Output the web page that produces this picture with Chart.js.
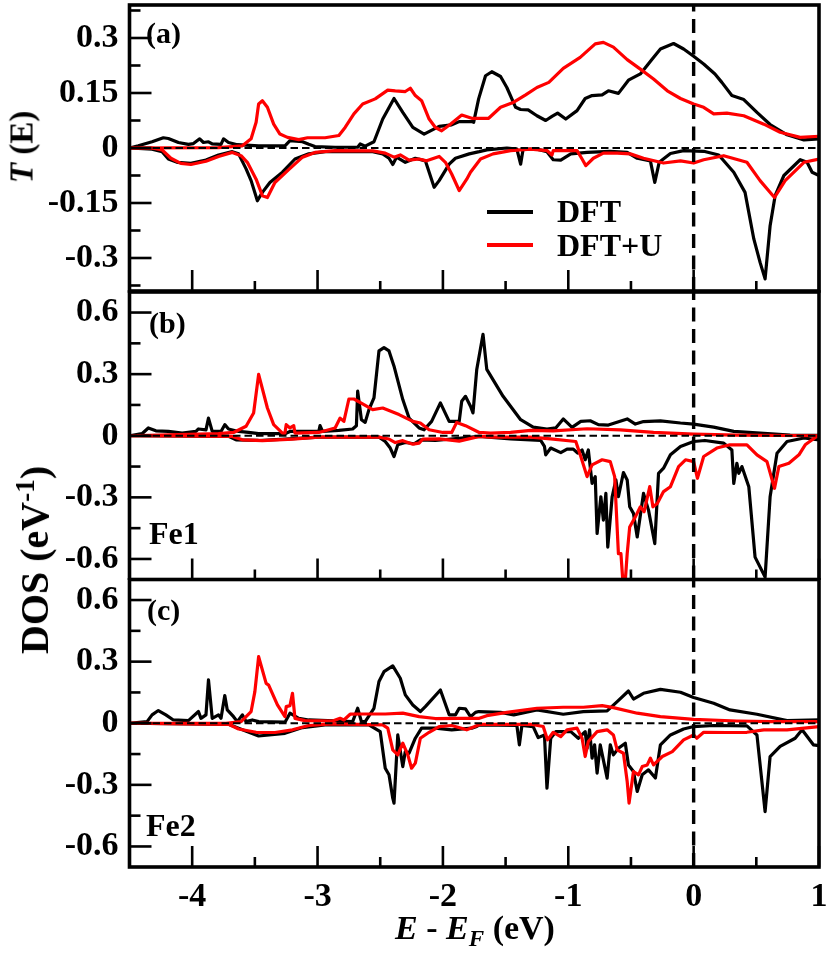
<!DOCTYPE html>
<html>
<head>
<meta charset="utf-8">
<script src="https://cdn.jsdelivr.net/npm/chart.js@4"></script>
<style>
  html, body { margin: 0; padding: 0; background: #fff; }
  #page { position: relative; width: 830px; height: 956px; overflow: hidden; font-family: "Liberation Serif", serif; font-weight: bold; color: #000; }
  canvas { position: absolute; left: 0; }
  .txt { position: absolute; white-space: nowrap; line-height: 1; }
  .rot { transform: translate(-50%, -50%) rotate(-90deg); }
  .leg { position: absolute; left: 487px; width: 46px; height: 3.5px; }
  sub { font-size: 68%; vertical-align: -0.32em; line-height: 0; }
  sup { font-size: 68%; vertical-align: 0.5em; line-height: 0; }
</style>
</head>
<body>
<div id="page">
  <canvas id="panelA" width="830" height="293" style="top:0"></canvas>
  <canvas id="panelB" width="830" height="291" style="top:289px"></canvas>
  <canvas id="panelC" width="830" height="378" style="top:578px"></canvas>

  <div class="txt" style="left:146px;top:18px;font-size:30px">(a)</div>
  <div class="txt" style="left:149px;top:308px;font-size:30px">(b)</div>
  <div class="txt" style="left:147px;top:595px;font-size:30px">(c)</div>
  <div class="txt" style="left:149px;top:517px;font-size:32px">Fe1</div>
  <div class="txt" style="left:146px;top:809px;font-size:32px">Fe2</div>

  <div class="leg" style="top:210px;background:#000"></div>
  <div class="leg" style="top:243px;background:#f00"></div>
  <div class="txt" style="left:557px;top:195px;font-size:32px">DFT</div>
  <div class="txt" style="left:557px;top:229px;font-size:32px">DFT+U</div>

  <div class="txt rot" style="left:22px;top:147px;font-size:33px"><i>T</i> (E)</div>
  <div class="txt rot" style="left:35px;top:560px;font-size:40px">DOS (eV<sup>-1</sup>)</div>
  <div class="txt" style="left:395px;top:911px;font-size:34px"><i>E</i> - <i>E<sub>F</sub></i> (eV)</div>
</div>

<script>
// panel (a), transmission
const aDftUpE = [-4.5,-4.43,-4.32,-4.23,-4.19,-4.11,-4.03,-3.99,-3.94,-3.91,-3.87,-3.84,-3.77,-3.75,-3.71,-3.64,-3.47,-3.26,-3.22,-3.12,-3.07,-3.02,-2.86,-2.68,-2.66,-2.62,-2.55,-2.48,-2.39,-2.32,-2.24,-2.15,-2.03,-1.93,-1.87,-1.77,-1.755,-1.715,-1.66,-1.61,-1.54,-1.49,-1.42,-1.38,-1.32,-1.25,-1.18,-1.13,-1.085,-1.02,-0.93,-0.865,-0.81,-0.73,-0.68,-0.6,-0.52,-0.425,-0.33,-0.265,-0.16,-0.08,0,0.08,0.17,0.225,0.305,0.4,0.505,0.61,0.745,0.88,1];
const aDftUpT = [0,0.006,0.017,0.028,0.026,0.015,0.01,0.012,0.025,0.015,0.017,0.011,0.01,0.025,0.015,0.009,0.006,0.006,0.02,0.017,0.01,0.004,0.002,0.002,0.011,0.005,0.017,0.079,0.135,0.097,0.056,0.038,0.059,0.063,0.072,0.072,0.07,0.134,0.197,0.208,0.195,0.165,0.111,0.105,0.104,0.088,0.075,0.086,0.095,0.079,0.102,0.135,0.143,0.145,0.156,0.149,0.185,0.202,0.243,0.27,0.285,0.27,0.25,0.229,0.202,0.179,0.143,0.132,0.097,0.064,0.036,0.022,0.025];
const aDftDownE = [-4.5,-4.32,-4.24,-4.19,-4.12,-4.01,-3.89,-3.79,-3.68,-3.63,-3.57,-3.53,-3.48,-3.44,-3.38,-3.28,-3.18,-3.07,-2.94,-2.56,-2.48,-2.43,-2.40,-2.37,-2.30,-2.22,-2.14,-2.07,-2.03,-1.95,-1.90,-1.79,-1.71,-1.65,-1.49,-1.41,-1.38,-1.36,-1.25,-1.17,-1.12,-1.06,-0.98,-0.85,-0.665,-0.53,-0.45,-0.345,-0.31,-0.275,-0.185,-0.08,0.08,0.2,0.32,0.41,0.48,0.53,0.57,0.61,0.65,0.72,0.85,0.905,0.945,1];
const aDftDownT = [0,-0.003,-0.01,-0.03,-0.039,-0.042,-0.033,-0.019,-0.01,-0.016,-0.057,-0.089,-0.144,-0.121,-0.094,-0.066,-0.03,-0.016,-0.01,-0.01,-0.016,-0.028,-0.045,-0.025,-0.039,-0.028,-0.035,-0.107,-0.089,-0.044,-0.028,-0.016,-0.01,-0.005,0,-0.003,-0.044,-0.003,-0.003,-0.01,-0.032,-0.033,-0.016,-0.012,-0.009,-0.012,-0.028,-0.035,-0.094,-0.039,-0.015,-0.007,-0.009,-0.019,-0.066,-0.121,-0.248,-0.312,-0.357,-0.212,-0.13,-0.075,-0.032,-0.039,-0.066,-0.075];
const aPlusUpE = [-4.5,-3.79,-3.60,-3.53,-3.49,-3.47,-3.44,-3.40,-3.35,-3.30,-3.24,-3.15,-3.08,-2.94,-2.83,-2.78,-2.71,-2.64,-2.54,-2.44,-2.38,-2.30,-2.26,-2.22,-2.17,-2.11,-2.06,-2.01,-1.94,-1.85,-1.77,-1.70,-1.635,-1.54,-1.435,-1.34,-1.25,-1.155,-1.04,-0.905,-0.785,-0.72,-0.64,-0.53,-0.425,-0.32,-0.21,-0.105,0,0.08,0.16,0.265,0.4,0.56,0.69,0.85,1];
const aPlusUpT = [0,0.001,0.006,0.025,0.07,0.12,0.129,0.111,0.065,0.038,0.029,0.023,0.028,0.028,0.034,0.056,0.093,0.12,0.134,0.158,0.156,0.154,0.163,0.143,0.129,0.079,0.056,0.047,0.065,0.09,0.081,0.081,0.081,0.111,0.125,0.145,0.165,0.179,0.217,0.247,0.284,0.288,0.275,0.241,0.215,0.188,0.156,0.135,0.12,0.111,0.093,0.095,0.088,0.065,0.043,0.029,0.032];
const aPlusDownE = [-4.5,-4.32,-4.24,-4.17,-4.09,-4.01,-3.89,-3.79,-3.68,-3.61,-3.56,-3.49,-3.44,-3.40,-3.34,-3.23,-3.12,-3.02,-2.86,-2.56,-2.46,-2.39,-2.34,-2.27,-2.19,-2.13,-2.03,-1.98,-1.93,-1.87,-1.81,-1.78,-1.70,-1.60,-1.46,-1.30,-1.17,-1.13,-1.12,-0.93,-0.89,-0.86,-0.80,-0.72,-0.61,-0.505,-0.40,-0.24,-0.105,0,0.08,0.24,0.425,0.53,0.645,0.73,0.88,1];
const aPlusDownT = [0,0,-0.005,-0.028,-0.042,-0.045,-0.036,-0.023,-0.012,-0.021,-0.039,-0.085,-0.13,-0.135,-0.094,-0.059,-0.025,-0.012,-0.007,-0.008,-0.014,-0.025,-0.019,-0.033,-0.03,-0.035,-0.023,-0.039,-0.071,-0.116,-0.085,-0.066,-0.03,-0.016,-0.007,-0.003,-0.007,-0.019,-0.007,-0.007,-0.03,-0.048,-0.028,-0.014,-0.014,-0.016,-0.028,-0.041,-0.035,-0.041,-0.032,-0.021,-0.039,-0.089,-0.135,-0.089,-0.039,-0.03];

// panel (b), Fe1 DOS
const bDftUpE = [-4.5,-4.40,-4.35,-4.29,-4.19,-4.08,-3.97,-3.95,-3.89,-3.87,-3.84,-3.77,-3.74,-3.71,-3.63,-3.55,-3.47,-3.26,-3.22,-2.99,-2.98,-2.96,-2.83,-2.72,-2.69,-2.68,-2.65,-2.62,-2.59,-2.55,-2.51,-2.47,-2.43,-2.39,-2.32,-2.27,-2.19,-2.15,-2.09,-2.02,-1.95,-1.87,-1.85,-1.82,-1.78,-1.76,-1.73,-1.68,-1.65,-1.52,-1.38,-1.28,-1.17,-1.10,-1.04,-0.97,-0.90,-0.825,-0.76,-0.68,-0.53,-0.465,-0.40,-0.265,-0.105,0,0.16,0.32,0.53,0.77,1];
const bDftUpD = [0,0.01,0.038,0.024,0.021,0.013,0.021,0.033,0.029,0.086,0.021,0.021,0.054,0.033,0.021,0.016,0.01,0.01,0.021,0.021,0.049,0.021,0.026,0.033,0.049,0.217,0.078,0.065,0.127,0.184,0.413,0.429,0.413,0.339,0.176,0.086,0.038,0.029,0.07,0.16,0.07,0.07,0.168,0.192,0.144,0.111,0.323,0.494,0.323,0.192,0.078,0.042,0.033,0.038,0.082,0.041,0.07,0.073,0.054,0.052,0.082,0.057,0.069,0.072,0.062,0.057,0.042,0.021,0.013,0.003,0.002];
const bDftDownE = [-4.5,-3.71,-3.65,-3.47,-3.26,-2.99,-2.51,-2.46,-2.42,-2.39,-2.36,-2.30,-2.23,-2.18,-2.06,-1.71,-1.46,-1.22,-1.19,-1.18,-1.14,-1.06,-1.01,-0.96,-0.925,-0.89,-0.865,-0.84,-0.81,-0.785,-0.77,-0.74,-0.72,-0.70,-0.685,-0.65,-0.62,-0.60,-0.56,-0.53,-0.51,-0.48,-0.45,-0.40,-0.36,-0.31,-0.28,-0.24,-0.185,-0.105,0,0.09,0.24,0.305,0.32,0.345,0.36,0.385,0.44,0.49,0.57,0.61,0.665,0.745,0.88,1];
const bDftDownD = [0,-0.003,-0.02,-0.023,-0.016,-0.007,-0.007,-0.028,-0.06,-0.101,-0.044,-0.033,-0.039,-0.02,-0.023,-0.003,-0.015,-0.023,-0.052,-0.093,-0.06,-0.082,-0.065,-0.065,-0.085,-0.069,-0.117,-0.069,-0.232,-0.199,-0.476,-0.297,-0.411,-0.281,-0.542,-0.297,-0.215,-0.297,-0.179,-0.215,-0.346,-0.378,-0.493,-0.281,-0.362,-0.525,-0.183,-0.158,-0.093,-0.052,-0.028,-0.023,-0.036,-0.069,-0.232,-0.134,-0.183,-0.15,-0.248,-0.591,-0.688,-0.297,-0.085,-0.028,-0.011,-0.02];
const bPlusUpE = [-4.5,-3.79,-3.67,-3.57,-3.51,-3.47,-3.40,-3.35,-3.28,-3.26,-3.25,-3.22,-3.19,-3.18,-2.99,-2.86,-2.82,-2.79,-2.75,-2.71,-2.63,-2.56,-2.48,-2.35,-2.24,-2.18,-2.11,-2.00,-1.93,-1.89,-1.82,-1.71,-1.62,-1.46,-1.30,-1.12,-0.85,-0.585,-0.32,0,0.345,1];
const bPlusUpD = [0,0.01,0.016,0.046,0.111,0.299,0.135,0.054,0.013,0.013,0.054,0.038,0.049,0.013,0.016,0.038,0.086,0.07,0.179,0.179,0.152,0.127,0.135,0.103,0.07,0.062,0.029,0.016,0.016,0.065,0.049,0.016,0.013,0.016,0.026,0.024,0.034,0.029,0.016,0.008,0.003,0];
const bPlusDownE = [-4.5,-3.68,-3.60,-3.44,-3.20,-2.99,-2.51,-2.43,-2.38,-2.32,-2.24,-2.19,-2.16,-2.03,-1.87,-1.71,-1.62,-1.30,-1.14,-0.94,-0.90,-0.85,-0.81,-0.73,-0.665,-0.63,-0.60,-0.58,-0.565,-0.545,-0.53,-0.51,-0.465,-0.425,-0.395,-0.35,-0.325,-0.29,-0.24,-0.185,-0.12,-0.065,0,0.03,0.08,0.185,0.29,0.425,0.505,0.585,0.645,0.68,0.76,0.84,0.89,1];
const bPlusDownD = [0,-0.003,-0.02,-0.024,-0.016,-0.007,-0.007,-0.016,-0.033,-0.024,-0.041,-0.036,-0.016,-0.015,-0.026,-0.003,-0.007,-0.007,-0.015,-0.028,-0.101,-0.199,-0.142,-0.117,-0.126,-0.199,-0.574,-0.574,-0.705,-0.705,-0.574,-0.444,-0.395,-0.346,-0.37,-0.248,-0.346,-0.33,-0.272,-0.248,-0.15,-0.117,-0.126,-0.207,-0.101,-0.06,-0.044,-0.044,-0.093,-0.126,-0.256,-0.15,-0.134,-0.093,-0.044,0.005];

// panel (c), Fe2 DOS
const cDftUpE = [-4.5,-4.36,-4.32,-4.27,-4.21,-4.15,-4.03,-3.95,-3.93,-3.89,-3.87,-3.84,-3.79,-3.77,-3.74,-3.72,-3.67,-3.64,-3.60,-3.57,-3.52,-3.47,-3.26,-3.22,-3.15,-3.07,-2.72,-2.68,-2.65,-2.62,-2.55,-2.51,-2.47,-2.40,-2.34,-2.30,-2.24,-2.18,-2.14,-2.02,-1.95,-1.90,-1.87,-1.82,-1.78,-1.74,-1.715,-1.54,-1.435,-1.25,-1.04,-0.88,-0.69,-0.61,-0.52,-0.48,-0.40,-0.265,-0.105,0,0.16,0.29,0.505,0.745,1];
const cDftUpD = [0,0.008,0.041,0.062,0.041,0.016,0.013,0.057,0.024,0.041,0.211,0.024,0.041,0.024,0.135,0.065,0.032,0.008,0.041,0.008,0.016,0.008,0.005,0.049,0.024,0.016,0.008,0.073,0.008,0.008,0.073,0.203,0.251,0.279,0.219,0.138,0.089,0.057,0.081,0.162,0.041,0.041,0.073,0.07,0.032,0.053,0.057,0.053,0.041,0.065,0.044,0.057,0.06,0.105,0.157,0.118,0.146,0.165,0.151,0.125,0.097,0.065,0.044,0.013,0.016];
const cDftDownE = [-4.5,-3.71,-3.63,-3.47,-3.26,-3.12,-2.94,-2.59,-2.50,-2.46,-2.43,-2.40,-2.39,-2.36,-2.32,-2.30,-2.27,-2.22,-2.17,-2.06,-1.93,-1.77,-1.73,-1.71,-1.41,-1.39,-1.37,-1.28,-1.24,-1.19,-1.17,-1.14,-1.10,-0.98,-0.92,-0.865,-0.85,-0.83,-0.81,-0.79,-0.77,-0.745,-0.69,-0.665,-0.64,-0.60,-0.545,-0.52,-0.48,-0.45,-0.41,-0.36,-0.305,-0.265,-0.185,-0.08,0,0.16,0.425,0.505,0.57,0.61,0.69,0.81,0.865,0.955,1];
const cDftDownD = [0,-0.005,-0.024,-0.062,-0.049,-0.021,-0.008,-0.008,-0.041,-0.219,-0.251,-0.365,-0.389,-0.057,-0.211,-0.138,-0.146,-0.073,-0.024,-0.024,-0.032,-0.024,-0.016,-0.008,-0.011,-0.105,-0.011,-0.016,-0.07,-0.057,-0.316,-0.073,-0.041,-0.041,-0.073,-0.041,-0.122,-0.032,-0.17,-0.105,-0.243,-0.105,-0.267,-0.105,-0.154,-0.122,-0.097,-0.203,-0.235,-0.332,-0.251,-0.227,-0.267,-0.105,-0.057,-0.028,-0.016,-0.011,-0.013,-0.057,-0.43,-0.162,-0.113,-0.073,-0.032,-0.105,-0.109];
const cPlusUpE = [-4.5,-3.73,-3.61,-3.53,-3.50,-3.47,-3.41,-3.39,-3.32,-3.26,-3.25,-3.22,-3.20,-3.18,-3.10,-2.88,-2.82,-2.79,-2.74,-2.64,-2.46,-2.32,-2.19,-2.06,-1.87,-1.71,-1.65,-1.49,-1.25,-1.04,-0.88,-0.73,-0.64,-0.45,-0.265,0,0.345,0.61,1];
const cPlusUpD = [0,0,0.008,0.057,0.154,0.324,0.194,0.186,0.089,0.032,0.081,0.086,0.146,0.024,0.013,0.011,0.024,0.016,0.044,0.045,0.045,0.049,0.032,0.023,0.024,0.024,0.037,0.053,0.073,0.078,0.078,0.086,0.076,0.049,0.032,0.019,0.011,0.008,0.008];
const cPlusDownE = [-4.5,-3.71,-3.63,-3.49,-3.34,-3.20,-3.07,-2.88,-2.48,-2.44,-2.40,-2.36,-2.32,-2.28,-2.25,-2.22,-2.18,-2.11,-2.03,-1.93,-1.81,-1.70,-1.30,-1.20,-1.165,-1.12,-1.06,-1.01,-0.93,-0.89,-0.865,-0.84,-0.77,-0.69,-0.64,-0.61,-0.56,-0.53,-0.515,-0.48,-0.44,-0.41,-0.37,-0.345,-0.32,-0.25,-0.17,-0.08,0,0.025,0.08,0.265,0.425,0.56,0.745,1];
const cPlusDownD = [0,-0.005,-0.028,-0.044,-0.045,-0.032,-0.011,-0.003,-0.008,-0.024,-0.13,-0.154,-0.097,-0.154,-0.219,-0.194,-0.073,-0.044,-0.016,-0.011,-0.032,-0.005,-0.005,-0.016,-0.081,-0.044,-0.065,-0.032,-0.024,-0.073,-0.162,-0.089,-0.041,-0.032,-0.057,-0.13,-0.146,-0.284,-0.389,-0.235,-0.251,-0.211,-0.203,-0.17,-0.203,-0.162,-0.138,-0.081,-0.057,-0.073,-0.044,-0.045,-0.044,-0.032,-0.032,-0.016];

// axis ticks
const xMajor = [-4, -3, -2, -1, 0, 1];
const xMinor = [-3.5, -2.5, -1.5, -0.5, 0.5];
const aYMajor = [-0.3, -0.15, 0, 0.15, 0.3];
const aYMinor = [-0.375, -0.225, -0.075, 0.075, 0.225, 0.375];
const dosYMajor = [-0.6, -0.3, 0, 0.3, 0.6];
const dosYMinor = [-0.45, -0.15, 0.15, 0.45];

const xMin = -4.5;
const xMax = 1;
const aLimit = 0.39;
const dosLimit = 0.7;

const tickFont = { family: "Liberation Serif", size: 34, weight: "bold" };

function pairs(xs, ys) {
  return xs.map((x, i) => ({ x: x, y: ys[i] }));
}

function curve(xs, ys, color) {
  return {
    data: pairs(xs, ys),
    borderColor: color,
    borderWidth: 3.2,
    pointRadius: 0,
    tension: 0,
    borderJoinStyle: "round",
  };
}

// frame and inward ticks, chart.js only draws ticks outward
const framePlugin = {
  id: "frame",
  afterDatasetsDraw(chart, args, opts) {
    const c = chart.ctx;
    const area = chart.chartArea;
    const x = chart.scales.x;
    const y = chart.scales.y;
    c.save();
    c.strokeStyle = "#000";
    c.lineWidth = 2.6;
    const tick = (x1, y1, x2, y2) => {
      c.beginPath();
      c.moveTo(x1, y1);
      c.lineTo(x2, y2);
      c.stroke();
    };
    opts.yMajor.forEach((v) => tick(area.left, y.getPixelForValue(v), area.left + 22, y.getPixelForValue(v)));
    opts.yMinor.forEach((v) => tick(area.left, y.getPixelForValue(v), area.left + 11, y.getPixelForValue(v)));
    xMajor.forEach((v) => tick(x.getPixelForValue(v), area.bottom, x.getPixelForValue(v), area.bottom - 21));
    xMinor.forEach((v) => tick(x.getPixelForValue(v), area.bottom, x.getPixelForValue(v), area.bottom - 10));
    c.lineWidth = 3.6;
    c.strokeRect(area.left, area.top, area.width, area.height);
    c.restore();
  },
};

function makePanel(id, limit, yMajor, yMinor, series, padTop, padBottom, showX) {
  // first dataset ends up on top
  const datasets = [
    {
      data: pairs([xMin, xMax], [0, 0]),
      borderColor: "#000",
      borderWidth: 2,
      borderDash: [7.5, 4],
      pointRadius: 0,
    },
    {
      data: pairs([0, 0], [-limit, limit]),
      borderColor: "#000",
      borderWidth: 3.4,
      borderDash: [14, 7.5],
      pointRadius: 0,
    },
    curve(series[2], series[3], "#ff0000"),
    curve(series[6], series[7], "#ff0000"),
    curve(series[0], series[1], "#000000"),
    curve(series[4], series[5], "#000000"),
  ];

  return new Chart(document.getElementById(id), {
    type: "line",
    data: { datasets: datasets },
    plugins: [framePlugin],
    options: {
      responsive: false,
      animation: false,
      layout: { padding: { top: padTop, bottom: padBottom, right: 11, left: 0 } },
      plugins: {
        legend: { display: false },
        tooltip: { enabled: false },
        frame: { yMajor: yMajor, yMinor: yMinor },
      },
      scales: {
        x: {
          type: "linear",
          min: xMin,
          max: xMax,
          display: showX,
          grid: { display: false, drawTicks: false },
          border: { display: false },
          afterBuildTicks: (s) => {
            s.ticks = xMajor.map((v) => ({ value: v }));
          },
          afterFit: (s) => {
            s.height = showX ? 89 : 0;
            s.paddingLeft = 0;
            s.paddingRight = 0;
          },
          ticks: {
            color: "#000",
            font: tickFont,
            padding: 10,
            autoSkip: false,
            maxRotation: 0,
            callback: (v) => String(v),
          },
        },
        y: {
          type: "linear",
          min: -limit,
          max: limit,
          grid: { display: false, drawTicks: false },
          border: { display: false },
          afterBuildTicks: (s) => {
            s.ticks = yMajor.map((v) => ({ value: v }));
          },
          afterFit: (s) => {
            s.width = 129.5;
            s.paddingTop = 0;
            s.paddingBottom = 0;
          },
          ticks: {
            color: "#000",
            font: tickFont,
            padding: 11,
            autoSkip: false,
            callback: (v) => String(v),
          },
        },
      },
    },
  });
}

makePanel("panelA", aLimit, aYMajor, aYMinor,
  [aDftUpE, aDftUpT, aPlusUpE, aPlusUpT, aDftDownE, aDftDownT, aPlusDownE, aPlusDownT], 5, 2, false);
makePanel("panelB", dosLimit, dosYMajor, dosYMinor,
  [bDftUpE, bDftUpD, bPlusUpE, bPlusUpD, bDftDownE, bDftDownD, bPlusDownE, bPlusDownD], 3, 0.5, false);
makePanel("panelC", dosLimit, dosYMajor, dosYMinor,
  [cDftUpE, cDftUpD, cPlusUpE, cPlusUpD, cDftDownE, cDftDownD, cPlusDownE, cPlusDownD], 1.5, 0, true);
</script>
</body>
</html>
